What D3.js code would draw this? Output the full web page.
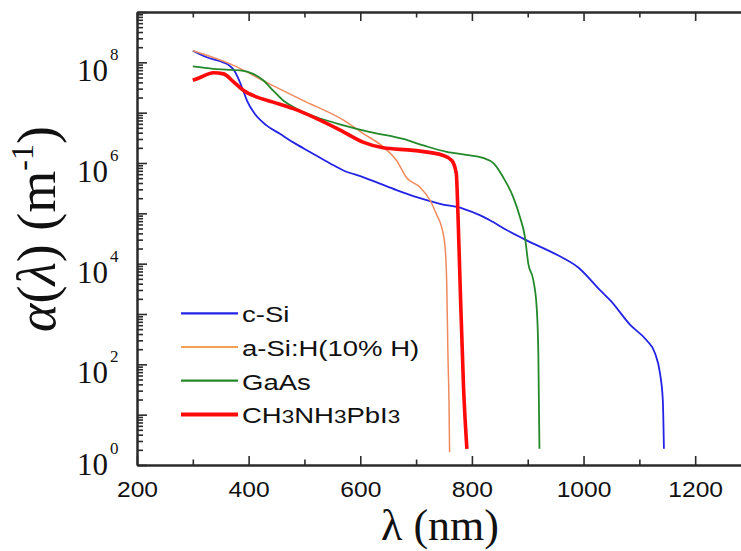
<!DOCTYPE html>
<html>
<head>
<meta charset="utf-8">
<script src="https://cdn.jsdelivr.net/npm/d3@7"></script>
<style>
  html, body { margin: 0; padding: 0; background: #fff; }
  svg { display: block; }
</style>
</head>
<body>
<svg id="chart" width="741" height="551"></svg>
<script>
// Absorption coefficient α(λ) in m^-1 against wavelength λ in nm
const seriesNames = ["c-Si", "a-Si:H(10% H)", "GaAs", "CH3NH3PbI3"];
const seriesColors = ["#2323e6", "#ee8a5e", "#23892b", "#ff0a0a"];
const seriesWidths = [1.8, 1.5, 1.8, 3.6];

const lambdaCSi = [300, 325, 349, 364, 373, 380, 390, 397, 411, 432, 456, 480, 510, 546, 570, 606, 635, 665, 701, 743, 785, 815, 833, 863, 898, 955, 990, 1030, 1048, 1084, 1113, 1128, 1137, 1142, 1144];
const alphaCSi = [1.70e8, 1.26e8, 1.05e8, 8.9e7, 7.2e7, 5.2e7, 2.8e7, 1.74e7, 9.5e6, 5.6e6, 3.8e6, 2.57e6, 1.66e6, 9.8e5, 7.1e5, 5.2e5, 3.9e5, 2.9e5, 2.1e5, 1.55e5, 1.23e5, 9.1e4, 7.2e4, 4.6e4, 2.9e4, 1.45e4, 8.5e3, 2.95e3, 1.86e3, 600, 300, 166, 66, 19.5, 2.1];

const lambdaASiH = [300, 367, 438, 498, 570, 606, 641, 665, 683, 707, 725, 737, 746, 752, 755, 757, 759, 760];
const alphaASiH = [1.70e8, 9.3e7, 3.7e7, 1.74e7, 7.1e6, 3.8e6, 2.1e6, 1.12e6, 5.1e5, 3.3e5, 1.82e5, 9.3e4, 5.2e4, 2.1e4, 3.5e3, 166, 16.6, 1.8];

const lambdaGaAs = [300, 337, 385, 408, 426, 444, 462, 486, 522, 570, 618, 677, 713, 755, 790, 820, 839, 856, 874, 886, 895, 901, 910, 916, 919, 921];
const alphaGaAs = [8.3e7, 7.4e7, 6.9e7, 5.9e7, 4.4e7, 2.75e7, 1.74e7, 1.2e7, 8.1e6, 5.6e6, 4.1e6, 3.0e6, 2.24e6, 1.66e6, 1.45e6, 1.26e6, 9.8e5, 5.2e5, 2.1e5, 8.5e4, 3.4e4, 1.0e4, 4.7e3, 1.38e3, 166, 2.1];

const lambdaMAPbI3 = [300, 313, 337, 355, 373, 391, 415, 444, 480, 522, 564, 606, 641, 695, 749, 764, 772, 775, 779, 785, 791];
const alphaMAPbI3 = [4.4e7, 5.0e7, 6.2e7, 5.9e7, 4.1e7, 2.75e7, 2.04e7, 1.62e7, 1.2e7, 7.6e6, 4.5e6, 2.57e6, 2.0e6, 1.78e6, 1.41e6, 1.12e6, 6.2e5, 9.8e4, 3.5e3, 35, 2.1];

const xTickValues = [200, 400, 600, 800, 1000, 1200];
const yLabelExponents = [0, 2, 4, 6, 8];

const seriesLambda = [lambdaCSi, lambdaASiH, lambdaGaAs, lambdaMAPbI3];
const seriesAlpha = [alphaCSi, alphaASiH, alphaGaAs, alphaMAPbI3];

const svg = d3.select("#chart");
const plotLeft = 137, plotRight = 751, plotTop = 12, plotBottom = 465;

const x = d3.scaleLinear().domain([200, 1300]).range([plotLeft, plotRight]);
const y = d3.scaleLog().domain([1, 1e9]).range([plotBottom, plotTop]);

const serif = "'Liberation Serif', 'Times New Roman', serif";
const sans = "'Liberation Sans', Arial, sans-serif";
const axisColor = "#2b2b2b";

// Curves
const line = d3.line()
  .x(d => x(d[0]))
  .y(d => y(d[1]))
  .curve(d3.curveMonotoneX);

const plot = svg.append("g");
seriesNames.forEach((name, i) => {
  const pts = seriesLambda[i].map((l, k) => [l, seriesAlpha[i][k]]);
  plot.append("path")
    .datum(pts)
    .attr("fill", "none")
    .attr("stroke", seriesColors[i])
    .attr("stroke-width", seriesWidths[i])
    .attr("stroke-linejoin", "round")
    .attr("stroke-linecap", "butt")
    .attr("d", line);
});

// Axes
function styleAxis(g) {
  g.select(".domain").attr("stroke", axisColor).attr("stroke-width", 2);
  g.selectAll(".tick line").attr("stroke", axisColor).attr("stroke-width", 1.6);
}

const xMinor = d3.range(300, 1300, 200);
const xMajorAll = d3.range(200, 1301, 200);

// bottom axis, ticks pointing into the plot
const gx = svg.append("g").attr("transform", `translate(0,${plotBottom})`)
  .call(d3.axisBottom(x).tickValues(xTickValues).tickFormat(d3.format("d"))
    .tickSizeInner(-9).tickSizeOuter(0).tickPadding(16))
  .call(styleAxis);
gx.selectAll(".tick text")
  .attr("fill", "#111")
  .attr("font-family", sans)
  .attr("font-size", 22)
  .attr("transform", "scale(1.12,1)");
svg.append("g").attr("transform", `translate(0,${plotBottom})`)
  .call(d3.axisBottom(x).tickValues(xMinor).tickSizeInner(-5.5).tickSizeOuter(0).tickFormat(""))
  .call(styleAxis);

// top axis
svg.append("g").attr("transform", `translate(0,${plotTop})`)
  .call(d3.axisTop(x).tickValues(xMajorAll).tickSizeInner(-9).tickSizeOuter(0).tickFormat(""))
  .call(styleAxis);
svg.append("g").attr("transform", `translate(0,${plotTop})`)
  .call(d3.axisTop(x).tickValues(xMinor).tickSizeInner(-5.5).tickSizeOuter(0).tickFormat(""))
  .call(styleAxis);

// left axis, log scale with decade and minor ticks
const yMajor = d3.range(0, 10).map(e => Math.pow(10, e));
const yMinor = [];
for (let e = 0; e < 9; e++) for (let m = 2; m <= 9; m++) yMinor.push(m * Math.pow(10, e));
svg.append("g").attr("transform", `translate(${plotLeft},0)`)
  .call(d3.axisRight(y).tickValues(yMajor).tickSizeInner(10).tickSizeOuter(0).tickFormat(""))
  .call(styleAxis);
svg.append("g").attr("transform", `translate(${plotLeft},0)`)
  .call(d3.axisRight(y).tickValues(yMinor).tickSizeInner(6).tickSizeOuter(0).tickFormat(""))
  .call(styleAxis);

// y tick labels 10^n
const yLab = svg.append("g");
yLabelExponents.forEach(e => {
  const ty = y(Math.pow(10, e));
  const base = e === 0 ? ty + 10 : ty + 19;
  yLab.append("text")
    .attr("font-family", serif)
    .attr("fill", "#111")
    .attr("x", 108)
    .attr("y", base)
    .attr("text-anchor", "end")
    .attr("font-size", 31)
    .text("10");
  yLab.append("text")
    .attr("font-family", serif)
    .attr("fill", "#111")
    .attr("x", 110)
    .attr("y", base - 21)
    .attr("font-size", 17)
    .text(String(e));
});

// axis titles
svg.append("text")
  .attr("x", 440)
  .attr("y", 540)
  .attr("text-anchor", "middle")
  .attr("font-family", serif)
  .attr("font-size", 44)
  .attr("fill", "#111")
  .text("λ (nm)");

const yt = svg.append("text")
  .attr("transform", "translate(55,229) rotate(-90)")
  .attr("text-anchor", "middle")
  .attr("font-family", serif)
  .attr("font-size", 54)
  .attr("fill", "#111");
yt.append("tspan").attr("font-style", "italic").text("α");
yt.append("tspan").text("(");
yt.append("tspan").attr("font-style", "italic").text("λ");
yt.append("tspan").text(") (m");
yt.append("tspan").attr("font-size", 32).attr("dy", -22).text("-1");
yt.append("tspan").attr("dy", 22).text(")");

// legend
const legend = svg.append("g");
const legendY0 = 313.3, legendStep = 33.7;
seriesNames.forEach((name, i) => {
  const ly = legendY0 + i * legendStep;
  legend.append("line")
    .attr("x1", 181).attr("x2", 238)
    .attr("y1", ly).attr("y2", ly)
    .attr("stroke", i === 1 ? "#f4a052" : seriesColors[i])
    .attr("stroke-width", i === 3 ? 4 : 2.2);
  const t = legend.append("text")
    .attr("transform", `translate(242,${ly + 9}) scale(1.25,1)`)
    .attr("font-family", sans)
    .attr("font-size", 22)
    .attr("fill", "#111");
  if (name === "CH3NH3PbI3") {
    const parts = ["CH", "3", "NH", "3", "PbI", "3"];
    parts.forEach(p => {
      t.append("tspan").attr("font-size", p === "3" ? 18 : 22).text(p);
    });
  } else {
    t.text(name);
  }
});
</script>
</body>
</html>
